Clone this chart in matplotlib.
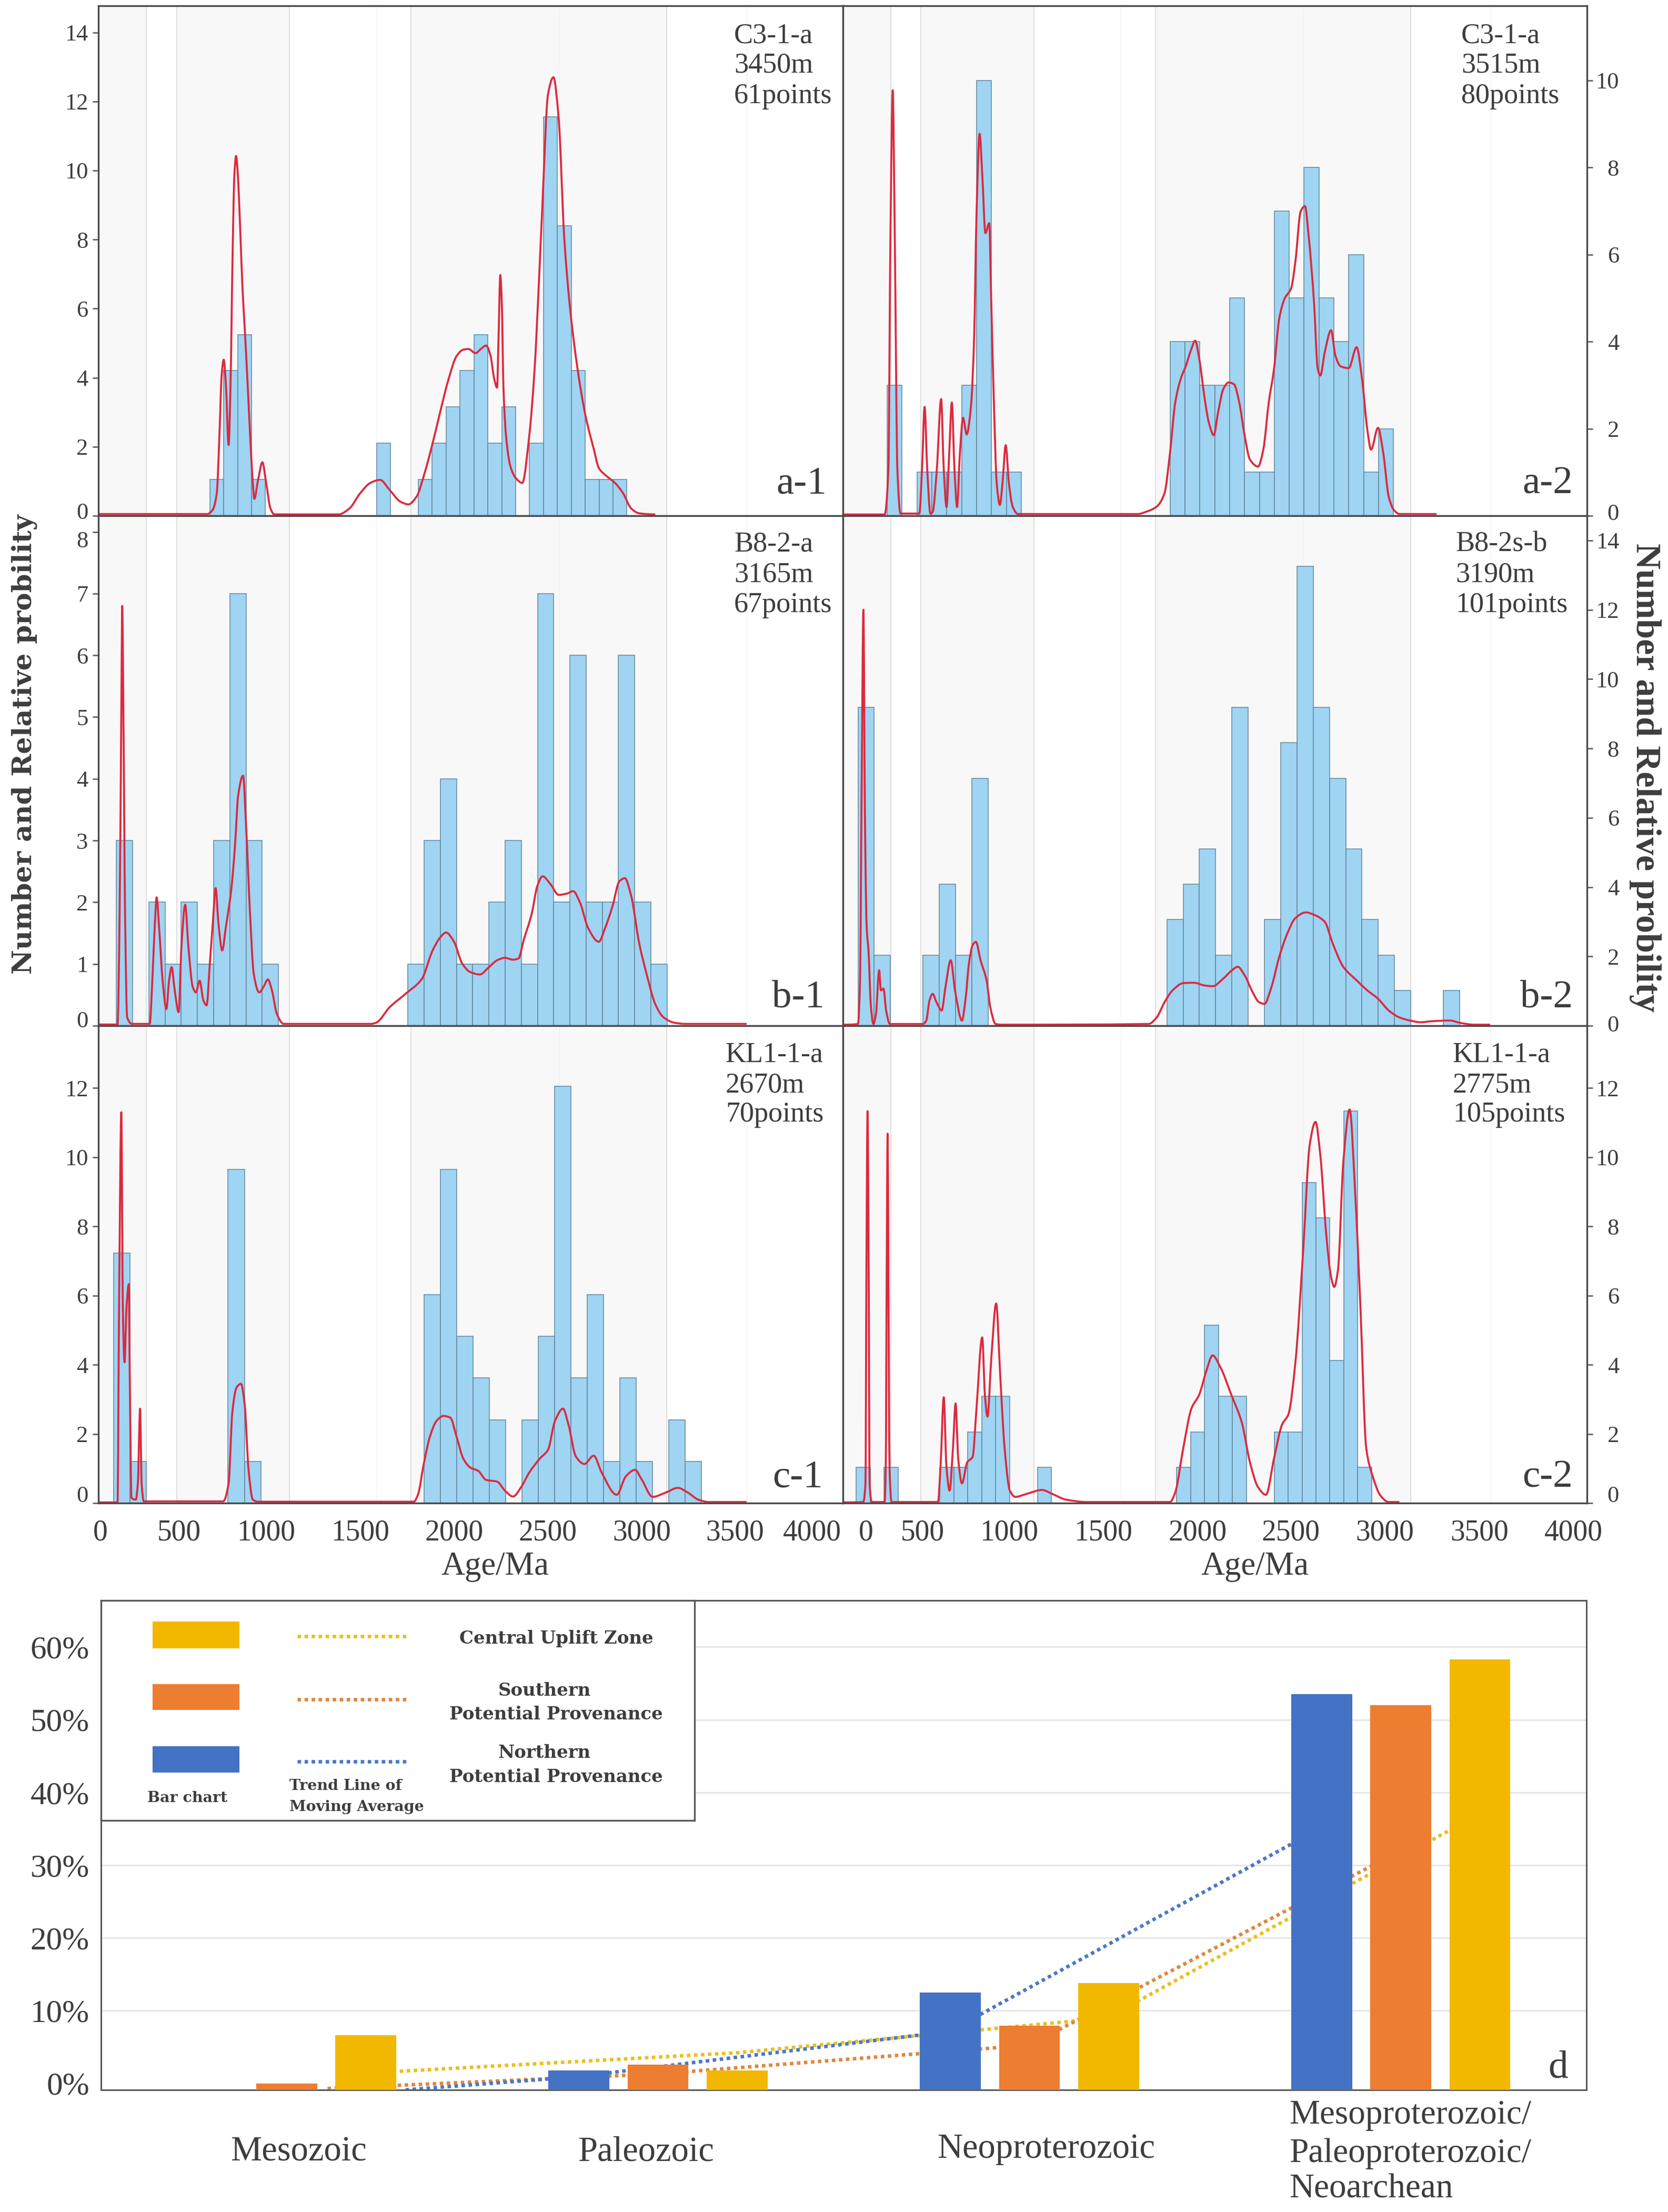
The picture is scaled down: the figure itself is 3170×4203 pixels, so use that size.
import numpy as np
import matplotlib
matplotlib.use("Agg")
import matplotlib.pyplot as plt
from matplotlib.patches import Rectangle, PathPatch
from matplotlib.path import Path
from matplotlib.transforms import ScaledTranslation

# ---------- data: histogram counts per age bin ----------
a1_bins = (700, 74.0, 1.05)
a1_counts = [1,4,5,1,0,0,0,0,0,0,0,0,2,0,0,1,2,3,4,5,2,3,0,2,11,8,4,1,1,1]
a2_bins = (343, 79.3, 1.0)
a2_counts = [3,0,1,1,1,3,10,1,1,0,0,0,0,0,0,0,0,0,0,4,4,3,3,5,1,1,7,5,8,5,4,6,1,2]
b1_bins = (203, 86.2, 1.0)
b1_counts = [3,0,2,1,2,1,3,7,3,1,0,0,0,0,0,0,0,0,1,3,4,1,1,2,3,1,7,2,6,2,2,6,2,1]
b2_bins = (187, 86.6, 1.02)
b2_counts = [9,2,0,0,2,4,2,7,0,0,0,0,0,0,0,0,0,0,0,3,4,5,2,9,0,3,8,13,9,7,5,3,2,1,0,0,1]
c1_bins = (189, 86.9, 1.205)
c1_counts = [6,1,0,0,0,0,0,8,1,0,0,0,0,0,0,0,0,0,0,5,8,4,3,2,0,2,4,10,3,5,1,3,1,0,2,1]
c2_bins = (178, 74.2, 1.03)
c2_counts = [1,0,1,0,0,0,1,1,2,3,3,0,0,1,0,0,0,0,0,0,0,0,0,1,2,5,3,3,0,0,2,2,9,8,4,11,1]

# ---------- data: relative probability curves (age Ma, value) ----------
a1_curve = [(108,.05),(686,.05),(714,.16),(737,.65),(751,2.3),(763,4.05),(774,4.52),(786,3.76),(800,2.05),(811,4.0),
 (820,7.16),(831,9.89),(840,10.42),(849,9.89),(863,8.14),(874,6.59),(886,5.42),(900,3.96),(914,2.4),(929,.94),(937,.49),
 (957,1.04),(980,1.55),(1000,.95),(1023,.21),(1043,.04),(1386,.04),(1443,.21),(1500,.65),(1557,.96),(1606,1.04),(1657,.75),
 (1714,.41),(1757,.33),(1800,.55),(1843,1.23),(1886,2.1),(1929,3.07),(1971,3.96),(2014,4.63),(2049,4.81),(2077,4.83),
 (2114,4.71),(2143,4.83),(2171,4.93),(2194,4.64),(2214,3.96),(2229,3.71),(2237,5.2),(2246,6.97),(2254,6.2),(2263,3.71),
 (2277,2.3),(2300,1.43),(2329,1.09),(2363,.95),(2400,2.3),(2429,4.27),(2451,6.68),(2471,9.1),(2500,12.2),(2529,12.7),
 (2557,11.5),(2586,8.1),(2614,6.2),(2657,4.27),(2700,2.89),(2743,1.95),(2771,1.38),(2814,1.14),(2857,.95),(2900,.65),
 (2943,.21),(2986,.07),(3071,.04)]
a2_curve = [(107,.03),(329,.03),(349,1.06),(360,6.45),(372,9.77),(383,6.45),(397,1.06),(414,.05),(514,.05),(528,1.06),(542,2.5),
 (556,1.06),(573,.05),(585,.09),(607,1.06),(630,2.68),(644,1.06),(659,.2),(673,1.44),(687,2.6),(701,1.06),(715,.2),(730,1.44),
 (747,2.25),(766,1.87),(789,2.52),(806,4.14),(818,6.84),(835,8.77),(849,7.84),(866,6.49),(886,6.72),(897,4.91),(911,2.6),
 (926,.75),(943,.25),(957,.75),(974,1.62),(991,.75),(1011,.21),(1039,.04),(1678,.04),(1721,.09),(1778,.21),(1820,.52),
 (1849,1.44),(1877,2.6),(1906,3.14),(1934,3.45),(1963,3.83),(1983,4.02),(2005,3.6),(2034,2.68),(2056,2.14),(2082,1.85),
 (2105,2.37),(2133,2.91),(2161,3.06),(2190,3.02),(2218,2.6),(2247,1.83),(2275,1.29),(2318,1.13),(2346,1.52),(2375,2.6),
 (2403,3.37),(2431,4.53),(2460,4.99),(2494,5.22),(2517,5.84),(2545,6.99),(2568,7.11),(2587,6.45),(2616,4.91),(2636,3.37),
 (2650,3.22),(2673,3.75),(2707,4.26),(2730,3.68),(2758,3.43),(2801,3.39),(2843,3.87),(2872,3.14),(2900,1.98),(2920,1.52),
 (2957,2.02),(2985,1.44),(3014,.44),(3042,.13),(3071,.04),(3269,.04)]
b1_curve = [(108,.02),(209,.02),(220,1.82),(229,5.09),(234,6.8),(240,5.09),(249,1.82),(260,.14),(286,.03),(380,.03),(394,.73),
 (406,1.55),(417,2.08),(431,1.55),(449,.73),(469,.27),(483,.73),(497,.95),(511,.63),(534,.22),(549,1.28),(569,1.96),(586,1.28),
 (609,.63),(626,.54),(646,.73),(666,.41),(683,.33),(700,1.0),(717,1.71),(731,2.23),(746,1.66),(766,1.22),(786,1.61),(814,2.2),
 (834,2.91),(851,3.73),(877,4.05),(894,3.18),(914,1.82),(934,.84),(963,.54),(986,.63),(1009,.75),(1031,.57),(1057,.19),
 (1094,.03),(1557,.03),(1586,.05),(1657,.3),(1743,.52),(1829,.76),(1886,1.22),(1929,1.44),(1957,1.51),(2000,1.36),(2043,1.01),
 (2086,.87),(2137,.83),(2186,.95),(2229,1.06),(2271,1.1),(2314,1.07),(2343,1.09),(2371,1.39),(2414,1.82),(2443,2.26),
 (2471,2.42),(2514,2.29),(2557,2.12),(2600,2.14),(2634,2.18),(2671,1.99),(2714,1.58),(2771,1.36),(2800,1.55),(2843,1.93),
 (2880,2.34),(2909,2.39),(2943,2.1),(2986,1.33),(3029,.79),(3071,.35),(3114,.14),(3171,.05),(3229,.03),(3557,.03)]
b2_curve = [(107,.03),(187,.05),(198,1.31),(207,7.12),(216,12.0),(224,6.15),(233,2.91),(244,2.08),(255,.63),(269,.05),(283,.34),
 (300,1.6),(309,1.02),(323,1.07),(337,.44),(357,.05),(533,.05),(551,.15),(568,.73),(585,.92),(605,.68),(633,.44),(653,1.11),
 (681,1.89),(704,1.02),(741,.15),(761,.82),(778,1.79),(798,2.33),(815,2.42),(840,1.89),(872,1.31),(892,.53),(920,.05),(954,.03),
 (1735,.05),(1778,.24),(1820,.68),(1863,1.02),(1920,1.23),(1977,1.24),(2034,1.16),(2076,1.14),(2133,1.36),(2175,1.58),(2210,1.7),
 (2247,1.45),(2289,.97),(2323,.68),(2352,.63),(2389,1.11),(2431,1.99),(2474,2.66),(2516,3.1),(2573,3.27),(2616,3.2),(2673,3.0),
 (2716,2.37),(2772,1.7),(2843,1.31),(2900,1.02),(2957,.78),(3014,.44),(3071,.24),(3128,.15),(3184,.1),(3241,.13),(3340,.15),
 (3397,.08),(3468,.03),(3554,.03)]
c1_curve = [(108,.02),(209,.02),(217,5.7),(229,11.3),(237,5.7),(246,4.07),(257,5.7),(269,6.33),(274,3.66),(283,.15),(306,.1),(317,.57),
 (329,2.73),(337,.57),(349,.05),(771,.05),(800,.57),(820,2.63),(843,3.35),(866,3.45),(886,2.83),(906,.98),(929,.1),(957,.04),
 (1786,.04),(1809,.26),(1837,1.08),(1871,1.91),(1906,2.37),(1943,2.52),(1980,2.47),(2014,1.91),(2049,1.29),(2086,1.03),(2129,.93),
 (2171,.67),(2229,.62),(2271,.36),(2314,.19),(2357,.46),(2400,.88),(2457,1.29),(2500,1.54),(2537,2.37),(2580,2.73),(2609,2.27),
 (2649,1.34),(2694,1.13),(2743,1.37),(2786,.88),(2866,.24),(2914,.77),(2963,.96),(3000,.67),(3057,.18),(3129,.31),(3191,.44),
 (3243,.31),(3300,.1),(3357,.03),(3557,.03)]
c2_curve = [(107,.02),(215,.03),(227,.57),(232,6.75),(238,11.33),(244,6.75),(249,.57),(261,.03),(329,.03),(335,1.08),(340,6.75),(345,10.68),
 (349,6.75),(355,1.08),(366,.03),(613,.03),(627,1.08),(644,3.06),(658,1.08),(675,.36),(693,1.6),(707,2.88),(721,1.29),(741,.57),
 (769,1.18),(798,1.34),(817,2.63),(849,4.79),(863,3.14),(877,2.5),(897,4.17),(923,5.77),(945,3.66),(968,1.6),(996,.36),(1025,.18),
 (1082,.26),(1167,.38),(1224,.26),(1295,.1),(1409,.03),(1849,.03),(1877,.31),(1920,1.6),(1963,2.73),(2005,3.14),(2042,3.81),
 (2076,4.27),(2119,3.91),(2175,3.14),(2232,2.32),(2275,1.18),(2318,.46),(2360,.24),(2403,1.29),(2446,2.27),(2480,2.57),(2517,4.07),
 (2559,7.36),(2593,10.35),(2624,11.02),(2650,10.04),(2681,7.78),(2707,6.54),(2724,6.25),(2744,6.75),(2772,9.84),(2806,11.38),
 (2835,9.01),(2863,5.72),(2894,1.6),(2929,.77),(2971,.21),(3014,.03),(3071,.03)]

band_spans = [(107, 363), (523, 1123), (1771, 3131)]
faint_ages = [1586, 2560, 3557]
age_labels = ["0", "500", "1000", "1500", "2000", "2500", "3000", "3500", "4000"]
left_label_ages = [117, 537, 1000, 1500, 2000, 2500, 3000, 3494, 3906]
right_label_ages = [230, 532, 991, 1493, 1997, 2493, 2994, 3496, 3997]

# ---------- data: panel d ----------
categories = ["Mesozoic", "Paleozoic", "Neoproterozoic", "Mesoproterozoic/"]
northern = [np.nan, 1.8, 12.5, 53.5]
southern = [0.0, 2.6, 7.9, 52.0]
central = [6.6, 1.8, 13.8, 58.3]
north_trend_x, north_trend = [0.32, 0.78, 1.785, 2.78], [-0.9, 0.9, 7.15, 35.0]
south_trend_x, south_trend = [0.11, 1.0, 2.0, 3.0], [-0.7, 1.3, 5.25, 32.0]
central_trend_x, central_trend = [0.21, 1.21, 2.21, 3.21], [1.4, 4.2, 9.0, 37.0]
pct_ticks = [0, 10, 20, 30, 40, 50, 60]

# ---------- layout ----------
W, H = 3170, 4203
SERIF = ["Liberation Serif", "DejaVu Serif"]
WIDE = ["DejaVu Serif", "Liberation Serif"]
plt.rcParams["font.family"] = SERIF
TXT = "#3d3d3d"
BAR = "#9fd4f3"
BAREDGE = "#64879b"
RED = "#dc2a3e"
C_BLUE, C_ORANGE, C_YELLOW = "#4472c4", "#ed7d31", "#f2b800"
T_BLUE, T_ORANGE, T_YELLOW = "#4a78c8", "#dd8840", "#e9c020"

fig = plt.figure(figsize=(W / 100, H / 100), dpi=100, facecolor="white")

def axpx(l, t, r, b, **kw):
    return fig.add_axes([l / W, 1 - b / H, (r - l) / W, (b - t) / H], **kw)

def ftext(x, y, s, **kw):
    kw.setdefault("color", TXT)
    kw.setdefault("va", "baseline")
    return fig.text(x / W, 1 - y / H, s, **kw)

def smooth_curve(ax, curve, **kw):
    """Draw the read points as one smooth Bezier path in data coordinates."""
    pts = np.array(curve, dtype=float)
    x, y = pts[:, 0], pts[:, 1]
    h = np.diff(x)
    d = np.diff(y) / h
    m = np.zeros(len(x))
    for i in range(1, len(x) - 1):
        if d[i - 1] * d[i] > 0:
            w1, w2 = 2 * h[i] + h[i - 1], h[i] + 2 * h[i - 1]
            m[i] = (w1 + w2) / (w1 / d[i - 1] + w2 / d[i])
    verts, codes = [(x[0], y[0])], [Path.MOVETO]
    for i in range(len(h)):
        verts += [(x[i] + h[i] / 3, y[i] + m[i] * h[i] / 3),
                  (x[i + 1] - h[i] / 3, y[i + 1] - m[i + 1] * h[i] / 3),
                  (x[i + 1], y[i + 1])]
        codes += [Path.CURVE4] * 3
    ax.add_patch(PathPatch(Path(verts, codes), fill=False, **kw))

XL, XM, XR = 187, 1602, 3016
ROWS = [(11, 980), (980, 1949), (1949, 2856)]

panels = [
    ("a-1", a1_bins, a1_counts, a1_curve, 0, 0, 14.77, range(0, 15, 2), ["C3-1-a", "3450m", "61points"], 1395, [82, 138, 196], 1571, 937, 10),
    ("a-2", a2_bins, a2_counts, a2_curve, 0, 1, 11.71, range(0, 11, 2), ["C3-1-a", "3515m", "80points"], 2777, [82, 138, 196], 2989, 937, 8),
    ("b-1", b1_bins, b1_counts, b1_curve, 1, 0, 8.26, range(0, 9, 1), ["B8-2-a", "3165m", "67points"], 1395, [1048, 1105, 1163], 1567, 1914, 13),
    ("b-2", b2_bins, b2_counts, b2_curve, 1, 1, 14.71, range(0, 15, 2), ["B8-2s-b", "3190m", "101points"], 2766, [1048, 1105, 1163], 2989, 1914, 4),
    ("c-1", c1_bins, c1_counts, c1_curve, 2, 0, 13.8, range(0, 13, 2), ["KL1-1-a", "2670m", "70points"], 1379, [2018, 2076, 2131], 1564, 2825, 17),
    ("c-2", c2_bins, c2_counts, c2_curve, 2, 1, 13.8, range(0, 13, 2), ["KL1-1-a", "2775m", "105points"], 2761, [2018, 2076, 2131], 2989, 2825, 17),
]

for tag, bins, counts, curve, row, col, ytop, yt, notes, nx, nys, tx, ty, zero_up in panels:
    t, b = ROWS[row]
    l, r = (XL, XM) if col == 0 else (XM, XR)
    ax = axpx(l, t, r, b)
    ax.set_xlim(107, 4070)
    ax.set_ylim(0, ytop)
    for s, e in band_spans:
        ax.axvspan(s, e, color="#f8f8f9", lw=0, zorder=0)
        for v in (s, e):
            if v > 107:
                ax.axvline(v, color="#d9d9dc", lw=1.2, zorder=0.5)
    for v in faint_ages:
        ax.axvline(v, color="#f0f0f1", lw=1.0, zorder=0.4)
    start, width, unit = bins
    c = np.array(counts, dtype=float)
    lefts = start + width * np.arange(len(c))
    keep = c > 0
    ax.bar(lefts[keep], c[keep] * unit, width=width, align="edge", color=BAR,
           edgecolor=BAREDGE, linewidth=1.1, zorder=2)
    smooth_curve(ax, curve, edgecolor=RED, lw=2.7, zorder=3, joinstyle="round")
    for sp in ax.spines.values():
        sp.set_color("#4a4a4a")
        sp.set_linewidth(2.4)
        sp.set_zorder(5)
    ax.set_yticks(list(yt))
    if col == 0:
        ax.tick_params(axis="y", left=True, right=False, length=8, width=1.8, color="#555555",
                       labelsize=32, labelcolor=TXT, pad=6)
    else:
        ax.yaxis.tick_right()
        ax.tick_params(axis="y", left=False, right=True, length=8, width=1.8, color="#555555",
                       labelsize=32, labelcolor=TXT, pad=36)
        for lab in ax.get_yticklabels():
            lab.set_ha("right")
    # the reference nudges the lowest label up, and the topmost "8" of b-1 down
    labs = ax.get_yticklabels()
    labs[0].set_transform(labs[0].get_transform() +
                          ScaledTranslation(0, zero_up / 100, fig.dpi_scale_trans))
    if tag == "b-1":
        labs[-1].set_transform(labs[-1].get_transform() +
                               ScaledTranslation(0, -14 / 100, fig.dpi_scale_trans))
    if row == 2:
        ax.set_xticks(left_label_ages if col == 0 else right_label_ages)
        ax.set_xticklabels(age_labels)
        ax.tick_params(axis="x", length=0, labelsize=40, labelcolor=TXT, pad=22)
    else:
        ax.set_xticks([])
    for n, y in zip(notes, nys):
        ftext(nx, y, n, fontsize=39, zorder=10)
    ftext(tx, ty, tag, fontsize=54, ha="right", zorder=10)

ftext(941, 2992, "Age/Ma", fontsize=45, ha="center")
ftext(2385, 2992, "Age/Ma", fontsize=45, ha="center")
fig.text(46 / W, 1 - 1414 / H, "Number and Relative probility", rotation=90, ha="center", va="center",
         fontsize=37, fontweight="bold", color=TXT, family=WIDE)
fig.text(3126 / W, 1 - 1478 / H, "Number and Relative probility", rotation=270, ha="center", va="center",
         fontsize=49, fontweight="bold", color=TXT)

# ---------- panel d ----------
axd = axpx(192, 3041, 3015, 3971)
axd.set_xlim(-0.5, 3.5)
axd.set_ylim(-0.9, 66.4)
FLOOR = -0.9
xs = np.arange(4)
BW, OFF = 0.164, 0.213
for p in pct_ticks[1:]:
    axd.axhline(p, color="#e6e6e6", lw=2.2, zorder=0)
for s, v, col in [(-OFF, northern, C_BLUE), (0, southern, C_ORANGE), (OFF, central, C_YELLOW)]:
    vals = np.array(v, dtype=float)
    ok = ~np.isnan(vals)
    axd.bar(xs[ok] + s, vals[ok] - FLOOR, width=BW, bottom=FLOOR, color=col, zorder=3, linewidth=0)
DOT = (0, (1, 1))
axd.plot(central_trend_x, central_trend, color=T_YELLOW, lw=4.8, ls=DOT, zorder=2)
axd.plot(south_trend_x, south_trend, color=T_ORANGE, lw=4.8, ls=DOT, zorder=2.1)
axd.plot(north_trend_x, north_trend, color=T_BLUE, lw=4.8, ls=DOT, zorder=2.2)
axd.set_yticks(pct_ticks)
axd.set_yticklabels([f"{p}%" for p in pct_ticks])
axd.set_xticks([])
axd.tick_params(axis="y", length=0, labelsize=44, labelcolor=TXT, pad=16)
for name, sp in axd.spines.items():
    sp.set_color("#5a5a5a")
    sp.set_linewidth(2.2)
ftext(2961, 3947, "d", fontsize=54, ha="center")

ftext(567, 4106, categories[0], fontsize=48, ha="center")
ftext(1228, 4106, categories[1], fontsize=48, ha="center")
ftext(1988, 4100, categories[2], fontsize=48, ha="center")
ftext(2450, 4035, categories[3], fontsize=47)
ftext(2450, 4108, "Paleoproterozoic/", fontsize=47)
ftext(2450, 4176, "Neoarchean", fontsize=47)

# ---------- legend box ----------
leg = axpx(192, 3041, 1320, 3459, zorder=6)
leg.set_xlim(192, 1320)
leg.set_ylim(3459, 3041)
leg.set_xticks([])
leg.set_yticks([])
leg.set_facecolor("white")
for sp in leg.spines.values():
    sp.set_color("#5a5a5a")
    sp.set_linewidth(2.4)
for y0, y1, col in [(3081, 3132, C_YELLOW), (3200, 3249, C_ORANGE), (3318, 3368, C_BLUE)]:
    leg.add_patch(Rectangle((290, y0), 165, y1 - y0, facecolor=col, edgecolor="none"))
for y, col in [(3109, T_YELLOW), (3229, T_ORANGE), (3347, T_BLUE)]:
    leg.plot([565, 775], [y, y], color=col, lw=4.8, ls=DOT)
LG = dict(fontsize=24.5, fontweight="bold", color=TXT, va="center", family=WIDE)
leg.text(1057, 3113, "Central Uplift Zone", ha="center", **LG)
leg.text(1035, 3212, "Southern", ha="center", **LG)
leg.text(1057, 3257, "Potential Provenance", ha="center", **LG)
leg.text(1035, 3330, "Northern", ha="center", **LG)
leg.text(1057, 3376, "Potential Provenance", ha="center", **LG)
LS = dict(fontsize=20.5, fontweight="bold", color=TXT, va="center", family=WIDE)
leg.text(356, 3416, "Bar chart", ha="center", **LS)
leg.text(550, 3393, "Trend Line of", ha="left", **LS)
leg.text(550, 3433, "Moving Average", ha="left", **LS)

fig.savefig("out.png", dpi=100, facecolor="white")
